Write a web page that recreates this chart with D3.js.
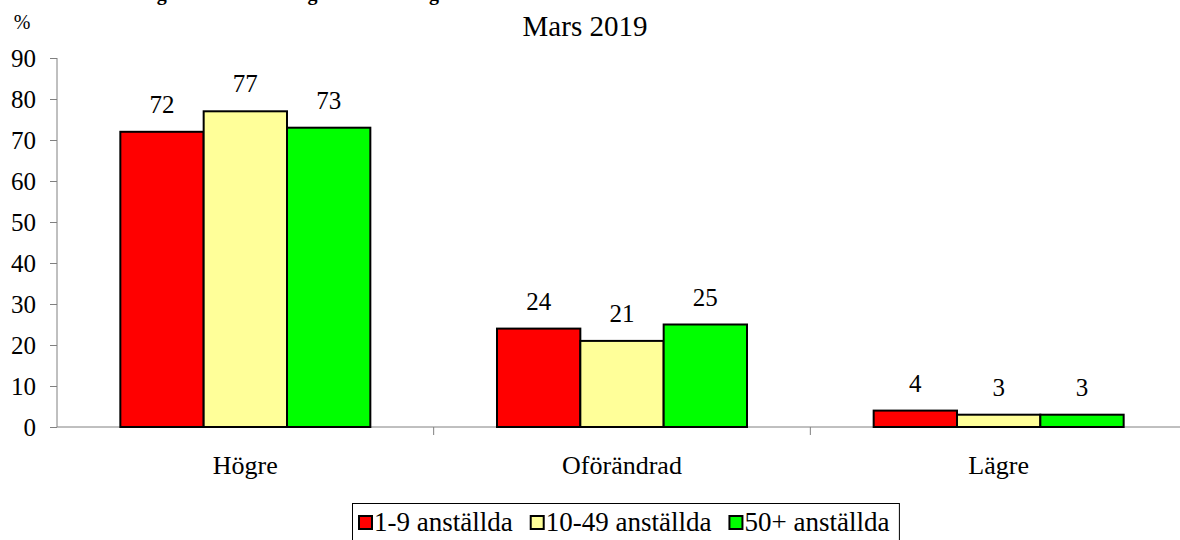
<!DOCTYPE html>
<html>
<head>
<meta charset="utf-8">
<script src="https://cdn.jsdelivr.net/npm/d3@7"></script>
<style>
  body { margin: 0; background: #fff; }
  .axis path, .axis line { stroke: #808080; }
</style>
</head>
<body>
<svg id="chart" width="1180" height="540"></svg>
<script>
// data
const categories = ["Högre", "Oförändrad", "Lägre"];
const seriesNames = ["1-9 anställda", "10-49 anställda", "50+ anställda"];
const seriesValues = [
  [72, 24, 4],
  [77, 21, 3],
  [73, 25, 3]
];
const yTicks = [0, 10, 20, 30, 40, 50, 60, 70, 80, 90];
const colors = ["#ff0000", "#ffff99", "#00ff00"];

const font = "'Liberation Serif', 'Times New Roman', serif";
const margin = {top: 58, left: 57, bottom: 113};
const width = 1180, height = 540;
const plotRight = 1187;
const svg = d3.select("#chart").attr("font-family", font);

let x = d3.scaleBand().domain(categories).range([margin.left, plotRight]);
let xs = d3.scaleBand().domain(d3.range(seriesNames.length))
  .range([0, x.bandwidth()]).paddingOuter(0.76);
let y = d3.scaleLinear().domain([0, 90]).range([height - margin.bottom, margin.top]);

/* titles (the main title is cut off at the top, as in the original) */
svg.append("text").text("Förväntningar om omsättningens utveckling")
  .attr("x", 60).attr("y", 0)
  .attr("font-size", 20).attr("font-weight", "bold");
svg.append("text").text("Mars 2019")
  .attr("x", 585).attr("y", 36)
  .attr("text-anchor", "middle").attr("font-size", 29);
svg.append("text").text("%")
  .attr("x", 22).attr("y", 29)
  .attr("text-anchor", "middle").attr("font-size", 20);

/* axes */
let yAxis = d3.axisLeft(y).tickValues(yTicks).tickSize(7).tickPadding(14);
svg.append("g").attr("class", "axis")
  .attr("transform", "translate(" + margin.left + ",0)")
  .call(yAxis)
  .call(g => g.select(".domain").attr("d", "M0," + y(90) + "V" + y(0)))
  .call(g => g.selectAll("text")
    .attr("font-family", font).attr("font-size", 25).attr("fill", "#000"));

let xAxis = svg.append("g").attr("class", "axis")
  .attr("transform", "translate(0," + y(0) + ")");
xAxis.append("line").attr("x1", margin.left).attr("x2", plotRight);
// tick marks at category boundaries
xAxis.selectAll(".sep").data(categories.slice(1))
  .enter().append("line")
  .attr("x1", d => x(d)).attr("x2", d => x(d))
  .attr("y1", 0).attr("y2", 8);
xAxis.selectAll(".cat").data(categories)
  .enter().append("text")
  .attr("x", d => x(d) + x.bandwidth() / 2)
  .attr("y", 47)
  .attr("text-anchor", "middle")
  .attr("font-size", 26)
  .text(d => d);

/* bars */
seriesNames.forEach(function(name, s) {
  let g = svg.append("g");
  g.selectAll("rect").data(seriesValues[s])
    .enter().append("rect")
    .attr("x", (d, i) => x(categories[i]) + xs(s))
    .attr("y", d => y(d))
    .attr("width", xs.bandwidth())
    .attr("height", d => y(0) - y(d))
    .attr("fill", colors[s])
    .attr("stroke", "#000")
    .attr("stroke-width", 2);
  g.selectAll("text").data(seriesValues[s])
    .enter().append("text")
    .attr("x", (d, i) => x(categories[i]) + xs(s) + xs.bandwidth() / 2)
    .attr("y", d => y(d) - 19)
    .attr("text-anchor", "middle")
    .attr("font-size", 25)
    .text(d => d);
});

/* legend */
let legend = svg.append("g");
let box = legend.append("rect")
  .attr("x", 352.5).attr("y", 503.5)
  .attr("height", 50)
  .attr("fill", "#fff").attr("stroke", "#000").attr("stroke-width", 1);
let lx = 359;
seriesNames.forEach(function(name, s) {
  legend.append("rect")
    .attr("x", lx).attr("y", 516)
    .attr("width", 13).attr("height", 13)
    .attr("fill", colors[s]).attr("stroke", "#000").attr("stroke-width", 2);
  let t = legend.append("text").text(name)
    .attr("x", lx + 15).attr("y", 531)
    .attr("font-size", 27);
  lx = lx + 15 + t.node().getComputedTextLength() + 18;
});
box.attr("width", lx - 352.5 - 8);
</script>
</body>
</html>
